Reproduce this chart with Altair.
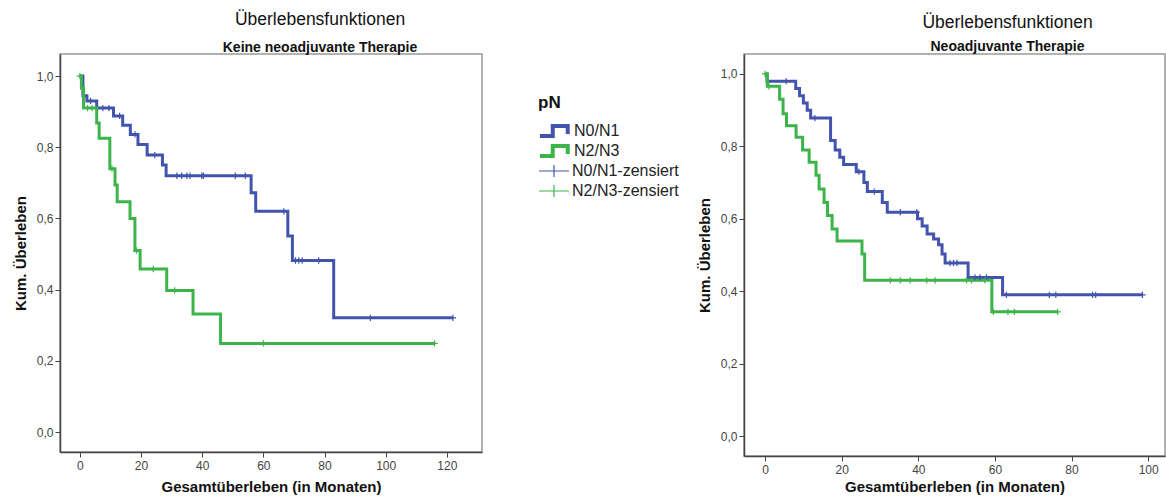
import altair as alt
import pandas as pd

BLUE = "#4254ad"
GREEN = "#3cb44a"

# ---------- Panel 1: Keine neoadjuvante Therapie ----------
L_N01_t = [0, 1, 2.3, 5.5, 11, 14, 16.5, 19, 22, 27, 28.2, 56, 57.5, 68, 69.5, 83, 122]
L_N01_s = [1.0, 0.945, 0.93, 0.91, 0.888, 0.862, 0.836, 0.808, 0.778, 0.75, 0.72, 0.672, 0.62, 0.551, 0.482, 0.321, 0.321]
L_N01_ct = [3.5, 7.5, 9.5, 13, 18, 24.5, 31.7, 33.3, 35, 36, 39.9, 40.4, 50.8, 54.1, 66.7, 70.5, 71.6, 72.7, 78.1, 95, 122]
L_N01_cs = [0.93, 0.91, 0.91, 0.888, 0.836, 0.778, 0.72, 0.72, 0.72, 0.72, 0.72, 0.72, 0.72, 0.72, 0.62, 0.482, 0.482, 0.482, 0.482, 0.321, 0.321]

L_N23_t = [0, 0.5, 1.2, 5.5, 6.3, 9.8, 11.5, 12.2, 16.4, 18, 19.7, 28.4, 37, 46, 116]
L_N23_s = [1.0, 0.966, 0.91, 0.868, 0.825, 0.74, 0.694, 0.647, 0.6, 0.51, 0.458, 0.398, 0.332, 0.249, 0.249]
L_N23_ct = [0, 2.5, 4, 10.5, 18.5, 24, 31, 60, 116]
L_N23_cs = [1.0, 0.91, 0.91, 0.74, 0.51, 0.458, 0.398, 0.249, 0.249]

# ---------- Panel 2: Neoadjuvante Therapie ----------
R_N01_t = [0, 0.5, 8, 9, 10, 11, 11.9, 17.1, 18.3, 19.5, 20.5, 23.8, 25.8, 26.7, 30.6, 31.9,
           39.8, 41, 42.3, 44, 45.3, 46.2, 47, 53, 62, 98.5]
R_N01_s = [1.0, 0.98, 0.96, 0.94, 0.92, 0.90, 0.878, 0.816, 0.79, 0.77, 0.75, 0.73, 0.70, 0.675, 0.645, 0.618,
           0.60, 0.58, 0.558, 0.544, 0.528, 0.503, 0.478, 0.438, 0.39, 0.39]
R_N01_ct = [5.5, 13, 24.5, 28.5, 35.3, 39.6, 48.3, 49.2, 50.1, 54.8, 56.1, 57.8, 63, 74.2, 75.9, 85.5, 86.3, 98.5]
R_N01_cs = [0.98, 0.878, 0.73, 0.675, 0.618, 0.618, 0.478, 0.478, 0.478, 0.438, 0.438, 0.438, 0.39, 0.39, 0.39, 0.39, 0.39, 0.39]

R_N23_t = [0, 0.6, 3.8, 4.7, 5.6, 8.1, 9.8, 11.5, 13.3, 14.1, 15.4, 16.3, 17.5, 18.8, 25.3, 26, 59.2, 76.4]
R_N23_s = [1.0, 0.966, 0.93, 0.89, 0.857, 0.825, 0.79, 0.756, 0.72, 0.682, 0.645, 0.609, 0.572, 0.539, 0.503, 0.43, 0.343, 0.343]
R_N23_ct = [0, 1, 32.7, 35.3, 37.9, 42.2, 44.4, 52.6, 53.9, 57.4, 59.6, 63.4, 65.1, 76.4]
R_N23_cs = [1.0, 0.966, 0.43, 0.43, 0.43, 0.43, 0.43, 0.43, 0.43, 0.43, 0.343, 0.343, 0.343, 0.343]

GROUPS = ["N0/N1", "N2/N3"]
CGROUPS = ["N0/N1-zensiert", "N2/N3-zensiert"]
Y_TICKS = [0.0, 0.2, 0.4, 0.6, 0.8, 1.0]
L_X_TICKS = [0, 20, 40, 60, 80, 100, 120]
R_X_TICKS = [0, 20, 40, 60, 80, 100]


def lines_df(t1, s1, t2, s2):
    return pd.concat([
        pd.DataFrame({"t": t1, "s": s1, "grp": GROUPS[0], "o": range(len(t1))}),
        pd.DataFrame({"t": t2, "s": s2, "grp": GROUPS[1], "o": range(len(t2))}),
    ])


def cens_df(t1, s1, t2, s2):
    return pd.concat([
        pd.DataFrame({"t": t1, "s": s1, "cgrp": CGROUPS[0]}),
        pd.DataFrame({"t": t2, "s": s2, "cgrp": CGROUPS[1]}),
    ])


FONT = "Liberation Sans"


def panel(ldf, cdf, xdom, ydom, xticks, w, h, subtitle, dx, offset, subpad, xtitlepad, legend):
    x = alt.X("t:Q", scale=alt.Scale(domain=xdom, nice=False, zero=False),
              axis=alt.Axis(values=xticks, title="Gesamtüberleben (in Monaten)", format="d",
                            titlePadding=xtitlepad))
    y = alt.Y("s:Q", scale=alt.Scale(domain=ydom, nice=False, zero=False),
              axis=alt.Axis(values=Y_TICKS, title="Kum. Überleben",
                            labelExpr="replace(format(datum.value, '.1f'), '.', ',')"))
    stroke_kw = dict(scale=alt.Scale(domain=GROUPS, range=[BLUE, GREEN]))
    color_kw = dict(scale=alt.Scale(domain=CGROUPS, range=[BLUE, GREEN]))
    if legend:
        stroke_kw["legend"] = alt.Legend(
            title="pN", orient="none", legendX=478, legendY=41,
            symbolType="M-1,0.33H-0.15V-0.33H0.85V0.2",
            symbolSize=900, symbolStrokeWidth=4, symbolFillColor="transparent",
            labelFontSize=16, labelFont=FONT, labelColor="#222", labelOffset=2,
            titleFontSize=17, titleFont=FONT, titleFontWeight="bold", titleColor="#111",
            titlePadding=10, rowPadding=2, clipHeight=18)
        color_kw["legend"] = alt.Legend(
            title=None, orient="none", legendX=478, legendY=108,
            symbolType="M-1,0H1M0,-0.4V0.4",
            symbolSize=900, symbolStrokeWidth=1.2, symbolFillColor="transparent",
            labelFontSize=16, labelFont=FONT, labelColor="#222", labelOffset=2,
            rowPadding=2, clipHeight=18)
    else:
        stroke_kw["legend"] = None
        color_kw["legend"] = None
    lines = alt.Chart(ldf).mark_line(interpolate="step-after", strokeWidth=3).encode(
        x=x, y=y, stroke=alt.Stroke("grp:N", **stroke_kw), order="o:Q")
    cens = alt.Chart(cdf).mark_point(shape="M-1,0H1M0,-1V1", size=40, strokeWidth=1.2,
                                     filled=False, opacity=1).encode(
        x=x, y=y, color=alt.Color("cgrp:N", **color_kw))
    return alt.layer(lines, cens).properties(
        width=w, height=h,
        title=alt.TitleParams(text="Überlebensfunktionen", subtitle=subtitle, fontSize=17.5, font=FONT,
                              fontWeight="normal", subtitleFont=FONT, subtitleFontWeight="bold",
                              subtitleFontSize=14, anchor="middle", frame="group", dx=dx,
                              offset=offset, subtitlePadding=subpad, color="#111", subtitleColor="#111"),
    ).resolve_scale(stroke="independent", color="independent")


left = panel(lines_df(L_N01_t, L_N01_s, L_N23_t, L_N23_s),
             cens_df(L_N01_ct, L_N01_cs, L_N23_ct, L_N23_cs),
             [-6.5, 131.5], [-0.056, 1.062], L_X_TICKS, 422, 398,
             "Keine neoadjuvante Therapie", 49, -1, 13, 8, True)
right = panel(lines_df(R_N01_t, R_N01_s, R_N23_t, R_N23_s),
              cens_df(R_N01_ct, R_N01_cs, R_N23_ct, R_N23_cs),
              [-5.5, 104.4], [-0.055, 1.055], R_X_TICKS, 421, 402,
              "Neoadjuvante Therapie", 53, 0, 9, 4, False)

chart = alt.hconcat(left, right, spacing=16).resolve_scale(
    stroke="independent", color="independent", x="independent", y="independent"
).properties(
    padding={"left": 12, "top": 9, "right": 0, "bottom": 0}
).configure_view(stroke="#999", strokeWidth=1.5).configure_axis(
    grid=False, domainColor="#444", domainWidth=1.5, tickColor="#444", tickSize=5,
    labelColor="#444", labelFont=FONT, labelFontSize=12, titleFont=FONT, titleFontSize=15,
    titleFontWeight="bold", titleColor="#111"
).configure_axisY(labelPadding=2, titlePadding=8).configure_axisX(labelPadding=3)

chart.save("out.html", embed_options={"renderer": "svg", "actions": False})
